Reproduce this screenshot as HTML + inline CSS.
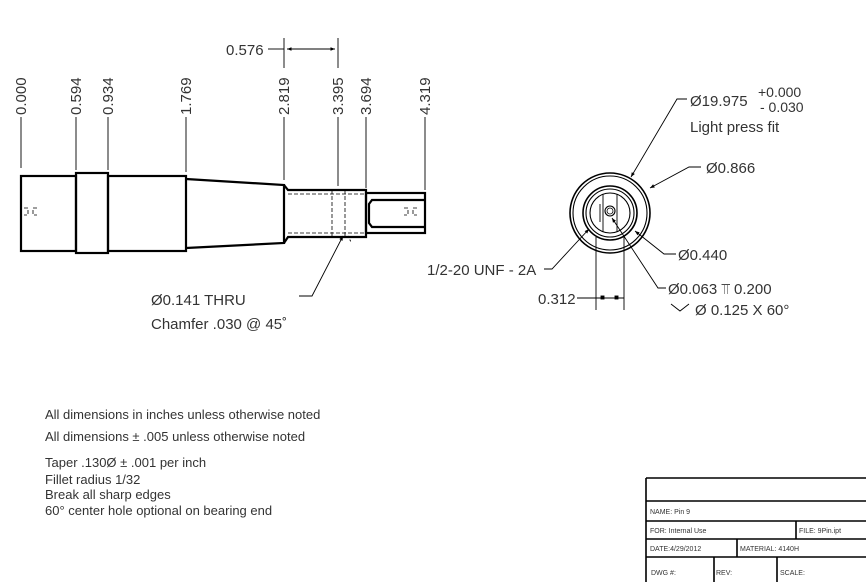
<!DOCTYPE html>
<html><head><style>
html,body{margin:0;padding:0;background:#fff}
svg{display:block}
text{font-family:"Liberation Sans",sans-serif;fill:#333}
</style></head><body>
<svg width="866" height="582" viewBox="0 0 866 582" xmlns="http://www.w3.org/2000/svg">
<defs><marker id="a" viewBox="0 0 10 10" refX="10" refY="5" markerWidth="7" markerHeight="5" orient="auto-start-reverse"><path d="M0,1 L10,5 L0,9 z" fill="#000"/></marker></defs>
<g stroke="#000" fill="none">
<g stroke-width="2.2">
<rect x="21" y="176" width="55" height="75"/>
<rect x="76" y="173" width="32" height="80"/>
<rect x="108" y="176" width="78" height="75"/>
<path d="M186,179 L284,185 L284,243 L186,248"/>
<path d="M284,185 L288,190 L366,190 L366,237 L288,237 L284,243"/>
<rect x="366" y="193" width="59" height="40"/>
<path d="M425,200 L372,200 L369,204 L369,223 L372,227 L425,227"/>
</g>
<g stroke-width="0.8" stroke-dasharray="4,2">
<path d="M288,194 H366 M288,233 H366 M332,190 V237 M345,190 V237"/>
<path d="M24,208 h4 v7 h-4 M37,208 h-4 v7 h4 M404,208 h4 v7 h-4 M417,208 h-4 v7 h4"/>
</g>
<g stroke-width="0.9">
<path d="M21,117 V168 M76,117 V170 M108,117 V170 M186,117 V172 M284,38 V68 M284,117 V180 M338,38 V68 M338,117 V186 M366,117 V188 M425,117 V190"/>
<path d="M268,49 H284"/>
<path d="M287,49 H335" marker-start="url(#a)" marker-end="url(#a)"/>
<path d="M299,296 L312,296 L343,236" marker-end="url(#a)"/>
<path d="M348,236 L351,242" stroke-dasharray="2,2"/>
</g>
<g stroke-width="1.6">
<circle cx="610" cy="213" r="40"/>
<circle cx="610" cy="213" r="37" stroke-width="1.1"/>
<circle cx="610" cy="213" r="27"/>
<circle cx="610" cy="213" r="24" stroke-width="1.1"/>
<circle cx="610" cy="213" r="20" stroke-width="1.1"/>
<circle cx="610" cy="211" r="5" stroke-width="1.1"/>
<circle cx="610" cy="211" r="3" stroke-width="0.8"/>
</g>
<g stroke-width="0.9">
<path d="M603,194 V232 M617,194 V232 M600,204 V222"/>
<path d="M596,237 V310 M624,237 V310 M577,298 H596"/>
<path d="M596,298 H624"/>
<rect x="601" y="296" width="3" height="3" fill="#000"/>
<rect x="615" y="296" width="3" height="3" fill="#000"/>
<path d="M687,99 L677,99 L631,177" marker-end="url(#a)"/>
<path d="M701,167 L689,167 L650,188" marker-end="url(#a)"/>
<path d="M676,254 L664,254 L635,231" marker-end="url(#a)"/>
<path d="M544,269 L552,269 L589,229" marker-end="url(#a)"/>
<path d="M666,288 L658,288 L612,218" marker-end="url(#a)"/>
<path d="M671,304 L680,311 L689,304"/>
</g>
<g stroke-width="1.6">
<path d="M646,478 H866 M646,478 V582 M646,501 H866 M646,521 H866 M646,539 H866 M646,557 H866"/>
<path d="M796,521 V539 M737,539 V557 M714,557 V582 M777,557 V582"/>
</g>
</g>
<g font-size="15">
<text transform="translate(26,115) rotate(-90)">0.000</text>
<text transform="translate(81,115) rotate(-90)">0.594</text>
<text transform="translate(113,115) rotate(-90)">0.934</text>
<text transform="translate(191,115) rotate(-90)">1.769</text>
<text transform="translate(289,115) rotate(-90)">2.819</text>
<text transform="translate(343,115) rotate(-90)">3.395</text>
<text transform="translate(371,115) rotate(-90)">3.694</text>
<text transform="translate(430,115) rotate(-90)">4.319</text>
<text x="226" y="55">0.576</text>
<text x="151" y="305">Ø0.141 THRU</text>
<text x="151" y="329">Chamfer .030 @ 45˚</text>
<text x="690" y="106">Ø19.975</text>
<text x="758" y="97" font-size="14">+0.000</text>
<text x="760" y="112" font-size="14">- 0.030</text>
<text x="690" y="132">Light press fit</text>
<text x="706" y="173">Ø0.866</text>
<text x="678" y="260">Ø0.440</text>
<text x="427" y="275">1/2-20 UNF - 2A</text>
<text x="538" y="304">0.312</text>
<text x="668" y="294">Ø0.063 ⫪ 0.200</text>
<text x="695" y="315">Ø 0.125 X 60°</text>
</g>
<g font-size="13">
<text x="45" y="419">All dimensions in inches unless otherwise noted</text>
<text x="45" y="441">All dimensions ± .005 unless otherwise noted</text>
<text x="45" y="467">Taper .130Ø ± .001 per inch</text>
<text x="45" y="484">Fillet radius 1/32</text>
<text x="45" y="499">Break all sharp edges</text>
<text x="45" y="515">60° center hole optional on bearing end</text>
</g>
<g font-size="7">
<text x="650" y="514">NAME:  Pin 9</text>
<text x="650" y="533">FOR: Internal Use</text>
<text x="799" y="533">FILE: 9Pin.ipt</text>
<text x="650" y="551">DATE:4/29/2012</text>
<text x="740" y="551">MATERIAL: 4140H</text>
<text x="651" y="575">DWG #:</text>
<text x="716" y="575">REV:</text>
<text x="780" y="575">SCALE:</text>
</g>
</svg>
</body></html>
